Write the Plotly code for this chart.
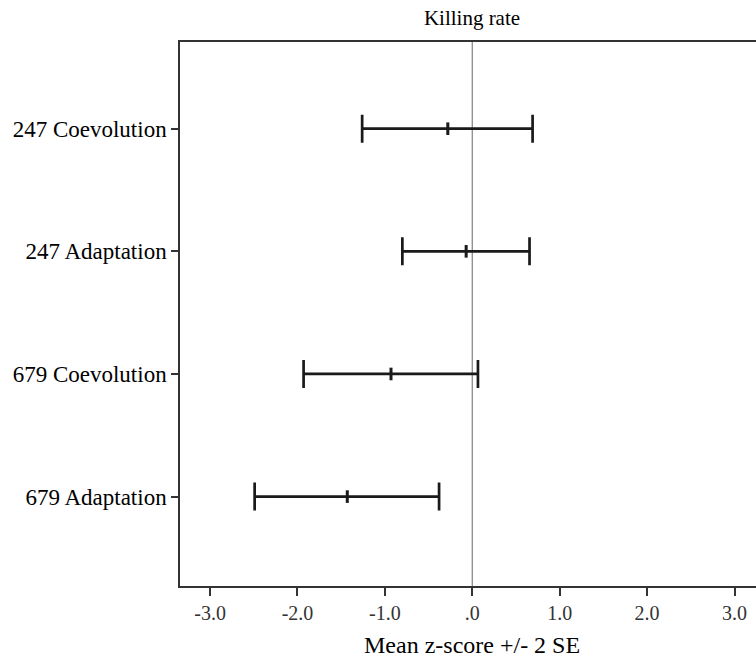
import plotly.graph_objects as go

categories = ["247 Coevolution", "247 Adaptation", "679 Coevolution", "679 Adaptation"]
means = [-0.28, -0.07, -0.93, -1.43]
lower = [-1.26, -0.80, -1.93, -2.49]
upper = [0.69, 0.655, 0.065, -0.38]

err_plus = [u - m for u, m in zip(upper, means)]
err_minus = [m - l for m, l in zip(means, lower)]

serif = "Liberation Serif, Times New Roman, serif"

W, H = 756, 657
PLOT_TOP, PLOT_BOTTOM = 42, 586
PLOT_H = PLOT_BOTTOM - PLOT_TOP

fig = go.Figure()
fig.add_trace(go.Scatter(
    x=means, y=categories, mode="markers",
    marker=dict(symbol="line-ns", size=9, line=dict(width=3, color="#1a1a1a"), color="#1a1a1a"),
    error_x=dict(type="data", symmetric=False, array=err_plus, arrayminus=err_minus,
                 color="#1a1a1a", thickness=2.7, width=14),
    showlegend=False, hoverinfo="skip",
))

fig.add_vline(x=0, line=dict(color="#8a8a8a", width=1.3), layer="below")

fig.add_annotation(
    text="Mean z-score +/- 2 SE", xref="x", x=0, yref="paper",
    y=(PLOT_BOTTOM - 645) / PLOT_H, yanchor="middle", showarrow=False,
    font=dict(family=serif, size=24, color="black"),
)

fig.update_layout(
    width=W, height=H,
    margin=dict(l=180, r=0, t=PLOT_TOP, b=H - PLOT_BOTTOM),
    paper_bgcolor="white", plot_bgcolor="white",
    title=dict(text="Killing rate", x=472 / W, xanchor="center",
               y=1 - 18 / H, yanchor="middle",
               font=dict(family=serif, size=21, color="black")),
    xaxis=dict(
        range=[-3.344, 3.246],
        tickvals=[-3, -2, -1, 0, 1, 2, 3],
        ticktext=["-3.0", "-2.0", "-1.0", ".0", "1.0", "2.0", "3.0"],
        showgrid=False, zeroline=False, automargin=False,
        showline=True, linecolor="#333333", linewidth=1.5, mirror=True,
        ticks="outside", ticklen=8, tickwidth=1.5, tickcolor="#333333",
        tickfont=dict(family=serif, size=20, color="#333333"),
    ),
    yaxis=dict(
        type="category", categoryorder="array", categoryarray=categories,
        range=[3.729, -0.707], automargin=False,
        showgrid=False, zeroline=False,
        showline=True, linecolor="#333333", linewidth=1.5,
        ticks="outside", ticklen=7, tickwidth=1.5, tickcolor="#333333",
        tickfont=dict(family=serif, size=23, color="black"),
    ),
)

fig.write_html("out.html", config={"displayModeBar": False},
               post_script="document.body.style.margin='0';document.body.style.overflow='hidden';")
